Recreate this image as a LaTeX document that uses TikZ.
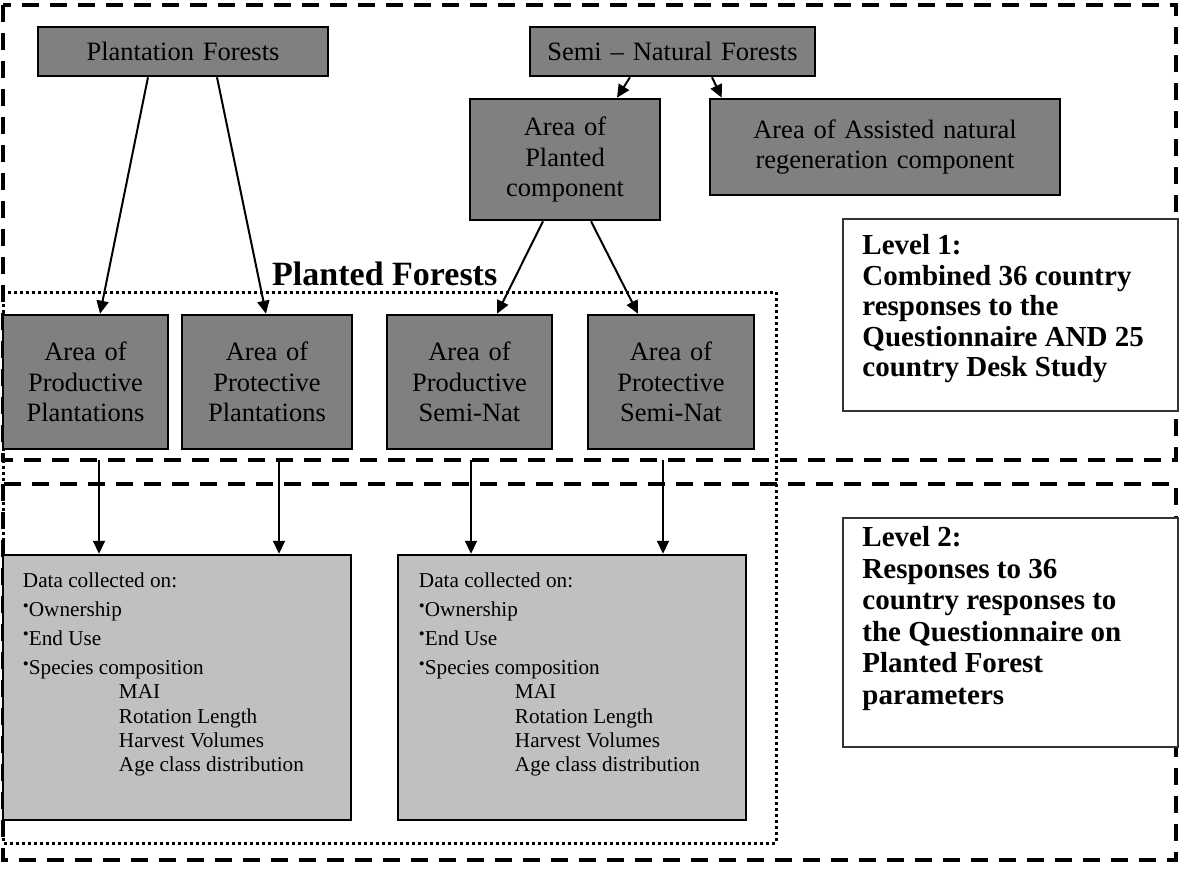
\documentclass[tikz,border=0pt]{standalone}
\usepackage{fontspec}
\setmainfont{Liberation Serif}
\usetikzlibrary{positioning, arrows.meta}
\definecolor{boxgray}{RGB}{128,128,128}
\definecolor{datagray}{RGB}{192,192,192}
\newcommand{\bulletmark}{\raisebox{5.5pt}{\fontsize{17}{17}\selectfont •}}
\newcommand{\datalist}{%
	Data collected on:\\[5pt]
	\bulletmark Ownership\\[4pt]
	\bulletmark End Use\\[5pt]
	\bulletmark Species composition\\
	\hspace*{96pt}MAI\\
	\hspace*{96pt}Rotation Length\\
	\hspace*{96pt}Harvest Volumes\\
	\hspace*{96pt}Age class distribution}
\tikzset{
	darkbox/.style n args={2}{
		draw, % Draw a border
		rectangle, % Shape of the node
		line width=2.5pt, % Border thickness
		fill=boxgray, % Dark grey fill
		inner sep=0pt,
		align=center, % Text alignment within the node
		text width=#1, % Width of the node
		minimum height=#2, % Height of the node
		font=\fontsize{26.5}{30.5}\selectfont
	},
	databox/.style={
		draw, % Draw a border
		rectangle,
		line width=2.5pt,
		fill=datagray, % Light grey fill
		minimum width=348pt,
		minimum height=265pt
	},
	datatext/.style={
		inner sep=0pt,
		align=left,
		font=\fontsize{21.2}{24.3}\selectfont
	},
	levelbox/.style={
		draw=black!80, % Thin border
		rectangle,
		line width=1.5pt,
		fill=white,
		minimum width=335pt
	},
	leveltext/.style n args={1}{
		inner sep=0pt,
		align=left,
		anchor=north west,
		font=\bfseries\fontsize{29}{#1}\selectfont
	},
	dashframe/.style={line width=3.5pt, dash pattern=on 17pt off 11pt},
	dotframe/.style={line width=3pt, dash pattern=on 3pt off 3pt},
	flow/.style={-{Triangle[length=13pt,width=12pt]}, line width=2pt}
}
\begin{document}
\begin{tikzpicture}[x=1pt, y=-1pt]
	\useasboundingbox (0,0) rectangle (1179,871);
	
	% level frames and the planted forests frame
	\draw[dashframe] (3,5) rectangle (1176,460);
	\draw[dashframe] (3,484) rectangle (1176,860);
	\draw[dotframe] (3,292) rectangle (776,843);
	\node[anchor=base west, inner sep=0pt, font=\bfseries\fontsize{34}{38}\selectfont] (plantedlabel) at (272,285) {Planted Forests};
	
	% top row
	\node[darkbox={290pt}{49pt}] (plantf) at (183,51.5) {Plantation Forests};
	\node[darkbox={285pt}{49pt}] (seminf) at (672.5,51.5) {Semi -- Natural Forests};
	\node[darkbox={190pt}{121pt}] (plcomp) at (565,159.5) {Area of\\Planted\\component};
	\node[darkbox={350pt}{96pt}] (anrcomp) at (885,147) {Area of Assisted natural\\regeneration component};
	\draw[flow] ([xshift=39.5pt]seminf.south) -- ([xshift=13pt]anrcomp.north west);
	\draw[flow] ([xshift=-42.5pt]seminf.south) -- ([xshift=52pt]plcomp.north);
	
	% planted forests row
	\node[darkbox={165pt}{134pt}] (prodpl) at (85.5,382) {Area of\\Productive\\Plantations};
	\node[darkbox={170pt}{134pt}, right=11.5pt of prodpl] (protpl) {Area of\\Protective\\Plantations};
	\node[darkbox={165pt}{134pt}, right=32.5pt of protpl] (prodsn) {Area of\\Productive\\Semi-Nat};
	\node[darkbox={166pt}{134pt}, right=33.5pt of prodsn] (protsn) {Area of\\Protective\\Semi-Nat};
	\draw[flow] ([xshift=-35pt]plantf.south) -- ([xshift=14.5pt]prodpl.north);
	\draw[flow] ([xshift=34pt]plantf.south) -- ([xshift=-1pt]protpl.north);
	\draw[flow] ([xshift=-22pt]plcomp.south) -- ([xshift=27.5pt]prodsn.north);
	\draw[flow] ([xshift=26pt]plcomp.south) -- ([xshift=-33pt]protsn.north);
	
	% data boxes
	\node[databox] (data1) at (177,687.5) {};
	\node[databox, right=44.5pt of data1] (data2) {};
	\node[datatext, anchor=north west] (data1txt) at ([xshift=21pt,yshift=-19pt]data1.north west) {\datalist};
	\node[datatext, anchor=north west] (data2txt) at ([xshift=22pt,yshift=-19pt]data2.north west) {\datalist};
	\foreach \x/\d in {99/data1, 279/data1, 471/data2, 663/data2}{
		\coordinate (drop) at (\x,460);
		\draw[flow] (drop) -- (\d.north -| drop);
	}
	
	% level notes
	\node[levelbox, minimum height=192pt] (level1) at (1010.5,315) {};
	\node[leveltext=30.5pt] (level1txt) at ([xshift=20pt,yshift=-16pt]level1.north west) {Level 1:\\Combined 36 country\\responses to the\\Questionnaire AND 25\\country Desk Study};
	\node[levelbox, minimum height=229pt] (level2) at (1010.5,632.5) {};
	\node[leveltext=31.5pt] (level2txt) at ([xshift=20pt,yshift=-9pt]level2.north west) {Level 2:\\Responses to 36\\country responses to\\the Questionnaire on\\Planted Forest\\parameters};
	
\end{tikzpicture}
\end{document}
